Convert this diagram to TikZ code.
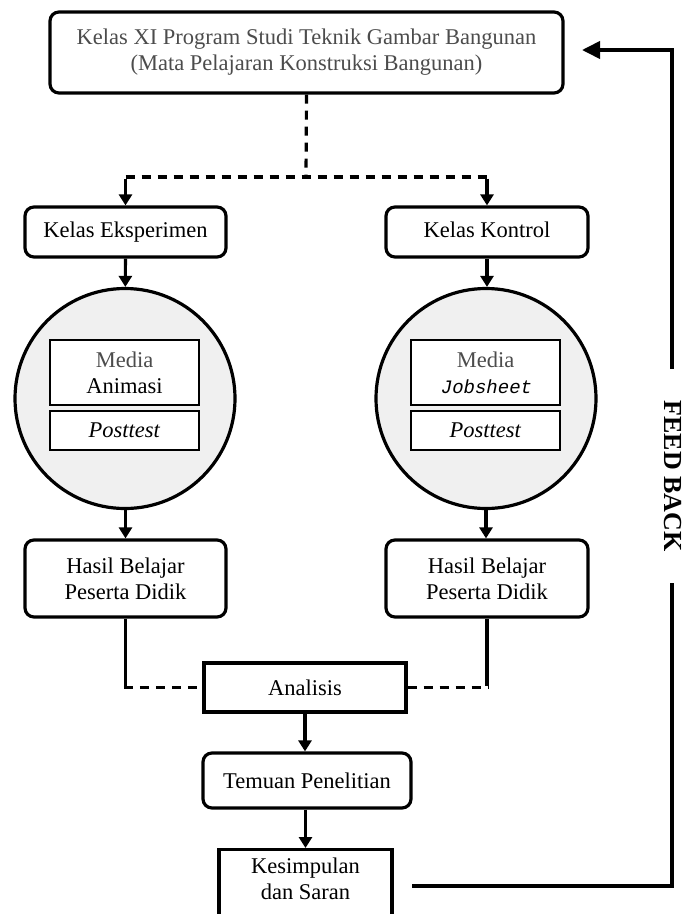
\documentclass[tikz,border=0pt]{standalone}
\usepackage{fontspec}
\setmainfont{Liberation Serif}
\newfontfamily\jobfont{Liberation Mono}[FakeSlant=0.2]
\usetikzlibrary{arrows.meta}

\tikzset{
  every node/.style={font=\fontsize{22.5}{26}\selectfont, align=center, inner sep=0pt},
  rbox/.style={draw, rounded corners=9pt, line width=3.2pt},
  sbox/.style={draw, line width=3.2pt},
  ibox/.style={draw, fill=white, line width=1.5pt},
  ring/.style={draw, circle, fill=black!6, line width=3.2pt, minimum size=220pt},
  flow/.style={line width=3.2pt, -{Triangle[length=11pt,width=13pt]}},
  link/.style={line width=3.2pt},
  putus/.style={line width=3.2pt, dash pattern=on 9pt off 7pt},
}

\begin{document}
\begin{tikzpicture}[x=1pt,y=-1pt]
  \useasboundingbox (0,0) rectangle (684,914);

  \node[rbox, minimum width=513, minimum height=81, text=black!70] (kelas) at (306.5,52.5)
    {Kelas XI Program Studi Teknik Gambar Bangunan\\(Mata Pelajaran Konstruksi Bangunan)};

  \node[rbox, minimum width=201, minimum height=50] (eksp) at (125.5,232) {Kelas Eksperimen};
  \node[rbox, minimum width=202, minimum height=50] (kont) at (487,232) {Kelas Kontrol\strut};

  % lingkaran perlakuan
  \node[ring] (lingA) at (125,398.5) {};
  \node[ring] (lingB) at (486,398.5) {};
  \node[ibox, minimum width=149, minimum height=65] (medA) at (124.5,372.5) {\textcolor{black!70}{Media}\\Animasi};
  \node[ibox, minimum width=149, minimum height=39] (postA) at (124.5,430.5) {\textit{Posttest}};
  \node[ibox, minimum width=149, minimum height=65] (medB) at (485.5,372.5) {\textcolor{black!70}{Media}\\{\jobfont\fontsize{19}{26}\selectfont Jobsheet}};
  \node[ibox, minimum width=149, minimum height=39] (postB) at (485.5,430.5) {\textit{Posttest}};

  \node[rbox, minimum width=201, minimum height=77] (hasA) at (125.5,578.5) {Hasil Belajar\\Peserta Didik};
  \node[rbox, minimum width=202, minimum height=77] (hasB) at (487,578.5) {Hasil Belajar\\Peserta Didik};

  \node[sbox, minimum width=202, minimum height=49] (anal) at (305,687.5) {Analisis};
  \node[rbox, minimum width=208, minimum height=55] (temu) at (307,780.5) {Temuan Penelitian};
  \node[sbox, minimum width=173, minimum height=110, anchor=north] (simp) at (305.5,848)
    {Kesimpulan\\dan Saran\\[26pt]};

  % percabangan atas
  \coordinate (cab) at (306,177);
  \coordinate (cabA) at (eksp.north |- cab);
  \coordinate (cabB) at (kont.north |- cab);
  \draw[putus] (kelas.south) -- (cab);
  \draw[putus] (cabA) -- (cabB);
  \draw[flow] ([yshift=-1.6pt]cabA) -- (eksp.north);
  \draw[flow] ([yshift=-1.6pt]cabB) -- (kont.north);

  \draw[flow] (eksp) -- (lingA);
  \draw[flow] (kont) -- (lingB.north -| kont.south);
  \draw[flow] (lingA.south -| hasA.north) -- (hasA);
  \draw[flow] (lingB) -- (hasB.north -| lingB.south);

  % menuju analisis
  \coordinate (gabA) at (hasA.south |- anal.west);
  \coordinate (gabB) at (hasB.south |- anal.east);
  \draw[link] (hasA.south) -- ([yshift=1.6pt]gabA);
  \draw[link] (hasB.south) -- ([yshift=1.6pt]gabB);
  \draw[putus] ([xshift=-1.6pt]gabA) -- (anal.west);
  \draw[putus] (anal.east) -- ([xshift=1.6pt]gabB);

  \draw[flow] (anal) -- (temu.north -| anal.south);
  \draw[flow] (temu.south -| simp.north) -- (simp);

  % umpan balik
  \coordinate (fb1) at (412,886);
  \coordinate (fb2) at (672,886);
  \coordinate (fb3) at (672,50);
  \coordinate (fb4) at (582,50);
  \draw[line width=3.8pt, -{Triangle[length=18pt,width=17pt]}] (fb1) -- (fb2) -- (fb3) -- (fb4);
  \node[fill=white, inner xsep=32pt, inner ysep=4pt, rotate=-90,
        font=\fontsize{26}{30}\selectfont\bfseries] (umpan) at (673,476) {FEED BACK};
\end{tikzpicture}
\end{document}
